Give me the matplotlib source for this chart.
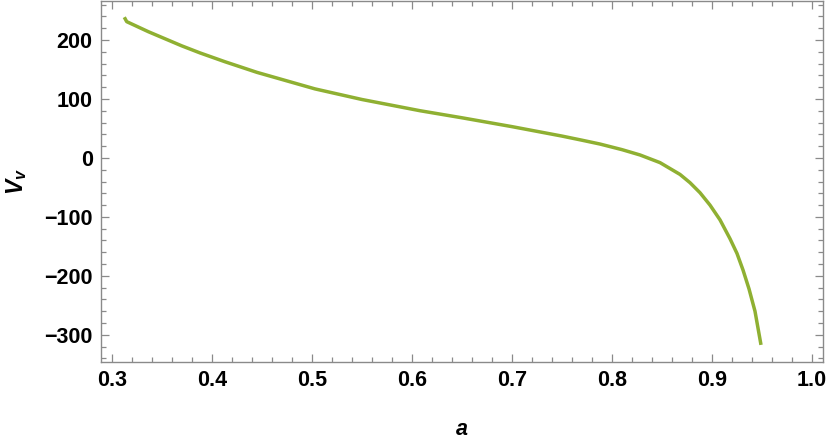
import matplotlib
matplotlib.use("Agg")
import matplotlib.pyplot as plt
from matplotlib.ticker import MultipleLocator

plt.rcParams['font.family'] = ['Liberation Sans', 'DejaVu Sans']
plt.rcParams['mathtext.fontset'] = 'custom'
plt.rcParams['mathtext.it'] = 'Liberation Sans:bold:italic'
plt.rcParams['mathtext.rm'] = 'Liberation Sans:bold'

a_vals = [0.3123, 0.3147, 0.3363, 0.3697, 0.388, 0.413, 0.445, 0.503, 0.55,
          0.608, 0.65, 0.70, 0.725, 0.75, 0.77, 0.788, 0.81, 0.828, 0.848,
          0.868, 0.878, 0.888, 0.898, 0.908, 0.918, 0.925, 0.931, 0.937,
          0.943, 0.949]
V_vals = [238.5, 231, 214, 190, 178, 163, 145, 117, 99,
          80, 68, 53, 45, 37, 30, 23.5, 14, 5, -8,
          -28, -42, -59, -80, -105, -137, -162, -190, -222,
          -260, -317]

x_ticks = [0.3, 0.4, 0.5, 0.6, 0.7, 0.8, 0.9, 1.0]
x_ticklabels = ['0.3', '0.4', '0.5', '0.6', '0.7', '0.8', '0.9', '1.0']
y_ticks = [-300, -200, -100, 0, 100, 200]
y_ticklabels = ['\u2212300', '\u2212200', '\u2212100', '0', '100', '200']

fig = plt.figure(figsize=(8.3, 4.45), dpi=100)
ax = fig.add_axes([101/830, 1-362/445, (823-101)/830, (362-1)/445])

ax.plot(a_vals, V_vals, color='#8FB032', lw=2.5, solid_capstyle='butt',
        solid_joinstyle='round')

ax.set_xlim(0.289, 1.011)
ax.set_ylim(-346, 266)

ax.set_xticks(x_ticks)
ax.set_xticklabels(x_ticklabels)
ax.set_yticks(y_ticks)
ax.set_yticklabels(y_ticklabels)
ax.xaxis.set_minor_locator(MultipleLocator(0.02))
ax.yaxis.set_minor_locator(MultipleLocator(20))

spine_col = '#8a8a8a'
for s in ax.spines.values():
    s.set_color(spine_col)
    s.set_linewidth(1.0)

ax.tick_params(which='both', direction='in', top=True, right=True,
               color=spine_col, width=0.9)
ax.tick_params(which='major', length=5.8, labelsize=15.5, pad=6)
ax.tick_params(which='minor', length=3.4)
for lbl in ax.get_xticklabels() + ax.get_yticklabels():
    lbl.set_fontweight('bold')

ax.set_xlabel('a', fontsize=15.5, fontweight='bold', fontstyle='italic', labelpad=20)
ax.set_ylabel(r'$V_v$', fontsize=16.5, labelpad=11)

fig.savefig('out.png', dpi=100)
